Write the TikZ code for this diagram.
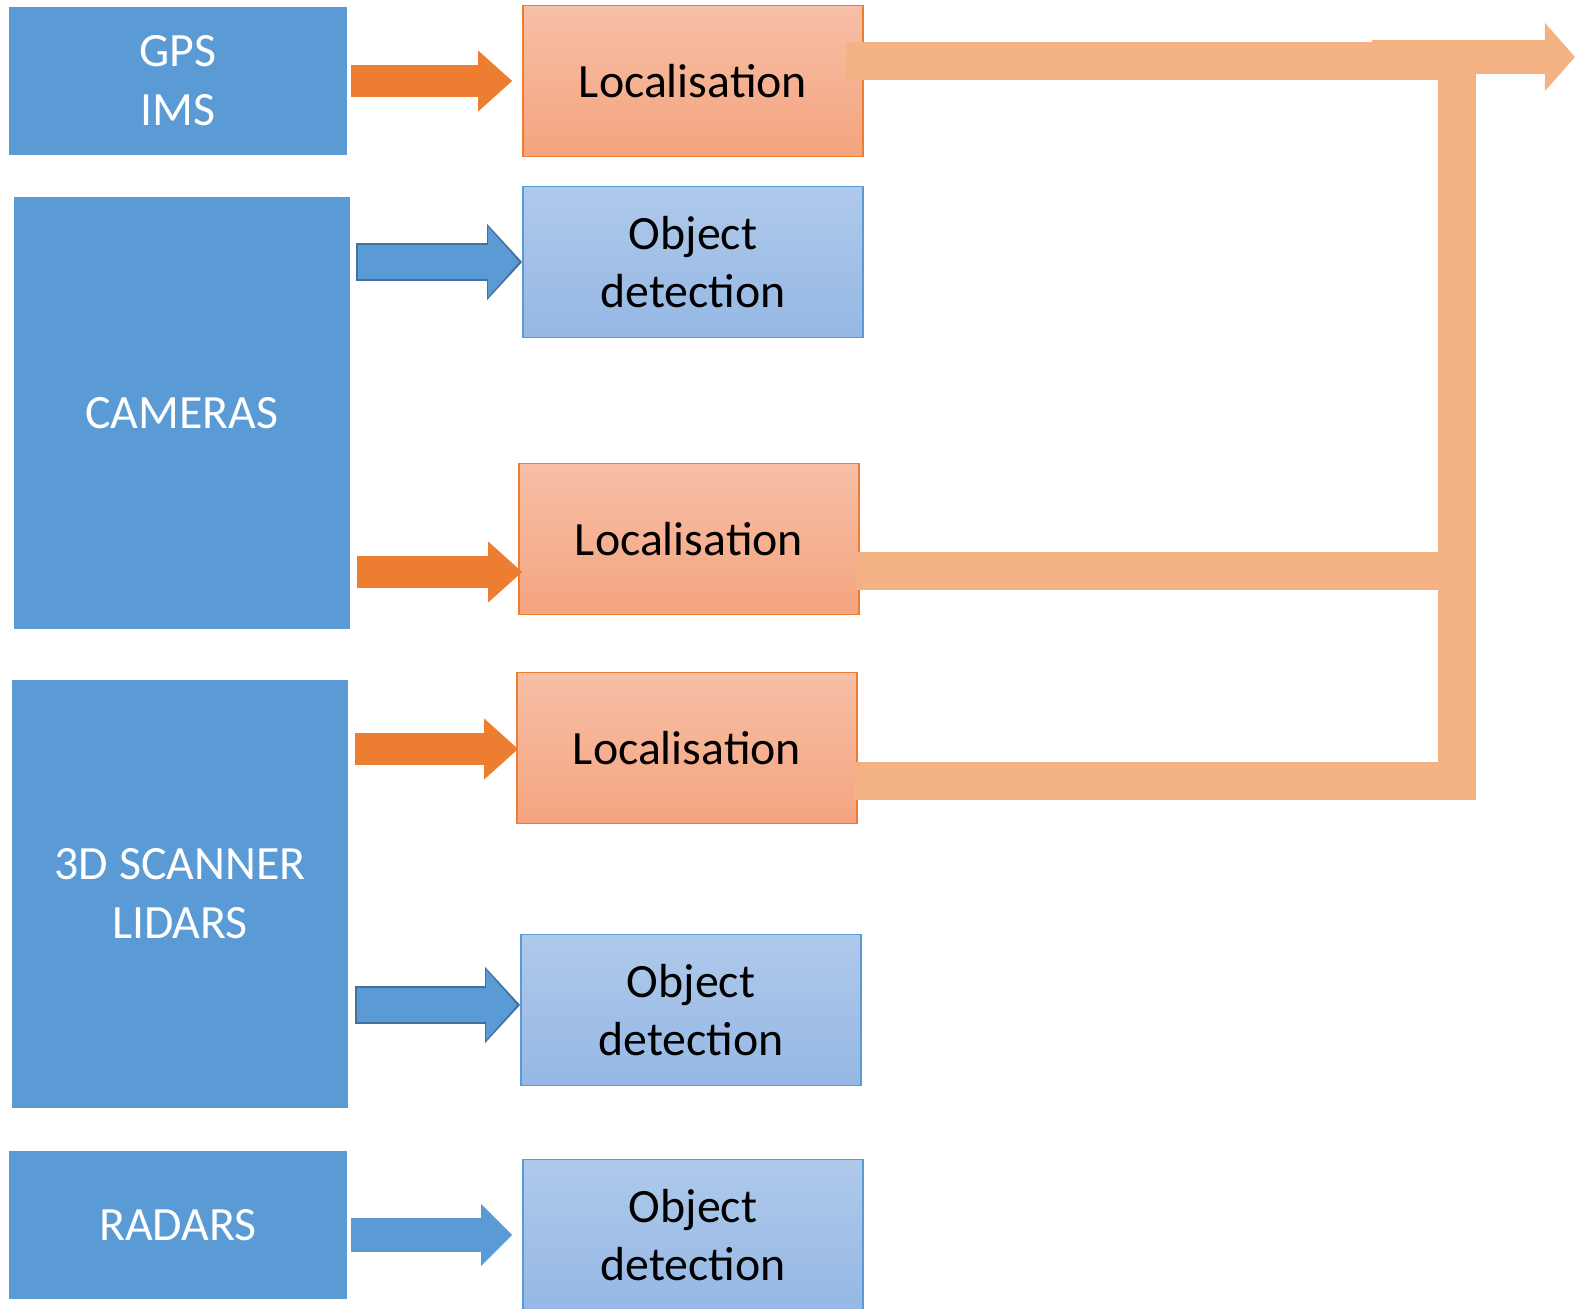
\documentclass[tikz,border=0pt]{standalone}
\usepackage{fontspec}
\setmainfont{Carlito}
\usepackage{tikz}
\usetikzlibrary{positioning}
\usetikzlibrary{arrows.meta}
\usetikzlibrary{calc}

\definecolor{sensorblue}{HTML}{5B9BD5}
\definecolor{sensorline}{HTML}{41719C}
\definecolor{locline}{HTML}{ED7D31}
\definecolor{loctop}{HTML}{F7BFA7}
\definecolor{locbot}{HTML}{F4A47E}
\definecolor{dettop}{HTML}{AFC9EA}
\definecolor{detbot}{HTML}{95B8E5}
\definecolor{busorange}{HTML}{F4B183}

\tikzset{
  sensor/.style={fill=sensorblue, text=white, align=center, inner sep=0pt},
  loc/.style={draw=locline, line width=0.015cm, top color=loctop, bottom color=locbot,
    minimum width=3.4cm, minimum height=1.51cm, inner sep=0pt, align=center},
  det/.style={loc, draw=sensorblue, top color=dettop, bottom color=detbot},
  oarrow/.style={draw=locline, line width=0.32cm,
    -{Triangle[length=0.34cm, width=0.61cm, line width=0pt]}},
  barrow/.style={draw=sensorblue, line width=0.34cm,
    -{Triangle[length=0.31cm, width=0.62cm, line width=0pt]}},
  barrowback/.style={draw=sensorline, line width=0.38cm,
    -{Triangle[length=0.35cm, width=0.76cm, line width=0pt]}},
  barrowfront/.style={draw=sensorblue, line width=0.34cm, shorten >=0.03cm, shorten <=0.02cm,
    -{Triangle[length=0.31cm, width=0.70cm, line width=0pt]}},
  busline/.style={draw=busorange, line width=0.38cm, line join=miter},
}

\begin{document}
\begin{tikzpicture}[x=0.01cm, y=-0.01cm, font=\fontsize{13.6}{16.7}\selectfont]
\useasboundingbox (0,0) rectangle (1575,1309);

% sensors
\node[sensor, minimum width=3.37cm, minimum height=1.47cm] (gps) at (178,81) {GPS\\IMS};
\node[sensor, minimum width=3.36cm, minimum height=4.31cm] (cam) at (182,413) {CAMERAS};
\node[sensor, minimum width=3.36cm, minimum height=4.28cm] (lid) at (180,894) {3D SCANNER\\LIDARS};
\node[sensor, minimum width=3.37cm, minimum height=1.47cm] (rad) at (178,1225) {RADARS};

% processing
\node[loc] (loc1) at (693,81) {Localisation};
\node[det] (odet1) at (693,262) {Object\\detection};
\node[loc] (loc2) at (689,539) {Localisation};
\node[loc] (loc3) at (687,748) {Localisation};
\node[det] (odet2) at (691,1010) {Object\\detection};
\node[det] (odet3) at (693,1235) {Object\\detection};

% sensor to processing
\draw[oarrow] ($(gps.east)+(4,0)$) -- ($(loc1.west)+(-10,0)$);
\draw[barrowback] (cam.east |- odet1.west) ++(5,0) -- (odet1.west);
\draw[barrowfront] (cam.east |- odet1.west) ++(5,0) -- (odet1.west);
\draw[oarrow] ($(cam.east |- loc2.west)+(6,33)$) -- ($(loc2.west)+(4,33)$);
\draw[oarrow] ($(lid.east |- loc3.west)+(6,1)$) -- ($(loc3.west)+(2,1)$);
\draw[barrowback] ($(lid.east |- odet2.west)+(6,-5)$) -- ($(odet2.west)+(0,-5)$);
\draw[barrowfront] ($(lid.east |- odet2.west)+(6,-5)$) -- ($(odet2.west)+(0,-5)$);
\draw[barrow] ($(rad.east |- odet3.west)+(4,0)$) -- ($(odet3.west)+(-10,0)$);

% fusion bus
\coordinate (bus) at (1457,61);
\coordinate (out) at (1575,57);
\draw[busline] ($(loc2.east)+(-4,32)$) -| (bus);
\draw[busline] ($(loc3.east)+(-4,33)$) -| (bus);
\draw[busline] ($(loc1.east)+(-18,-20)$) -- ($(bus)+(19,0)$);
\draw[busline, line width=0.34cm, -{Triangle[length=0.30cm, width=0.68cm, line width=0pt]}] (bus -| 1372,0) ++(0,-4) -- (out);
\end{tikzpicture}
\end{document}
